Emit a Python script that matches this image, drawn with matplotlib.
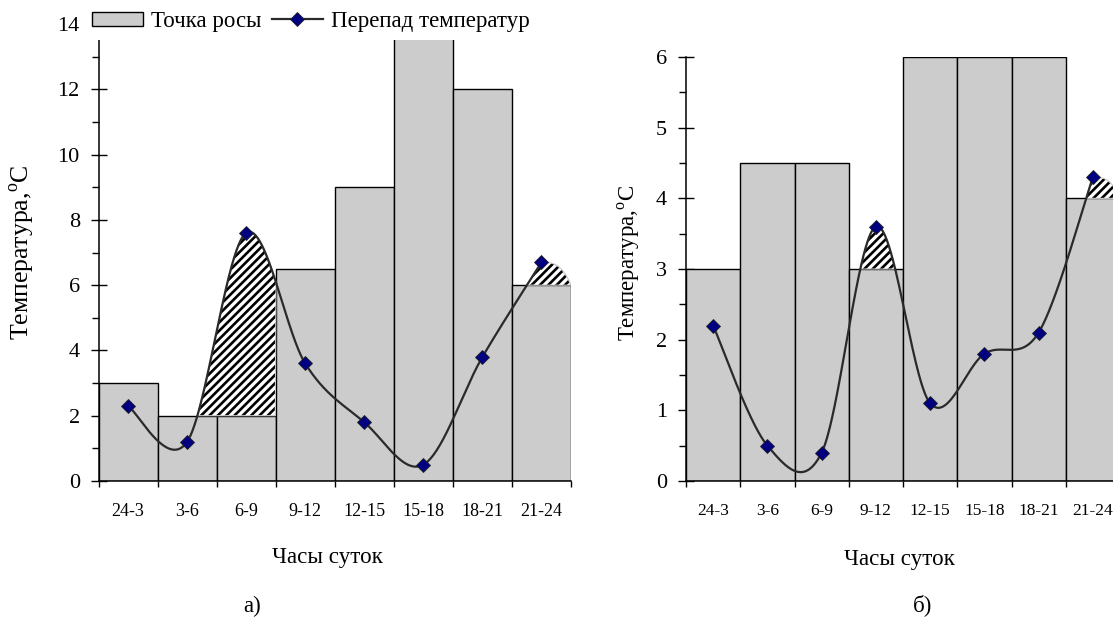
import numpy as np
import matplotlib
matplotlib.use("Agg")
import matplotlib.pyplot as plt
from matplotlib.lines import Line2D
from matplotlib.patches import Patch

plt.rcParams['font.family'] = ['Liberation Serif', 'DejaVu Serif']
plt.rcParams['mathtext.fontset'] = 'custom'
plt.rcParams['mathtext.rm'] = 'Liberation Serif'
plt.rcParams['hatch.linewidth'] = 1.9

hours = ['24-3', '3-6', '6-9', '9-12', '12-15', '15-18', '18-21', '21-24']

# а)
dew_a = [3, 2, 2, 6.5, 9, 14, 12, 6]
diff_a = [2.3, 1.2, 7.6, 3.6, 1.8, 0.5, 3.8, 6.7]

# б)
dew_b = [3, 4.5, 4.5, 3, 6, 6, 6, 4]
diff_b = [2.2, 0.5, 0.4, 3.6, 1.1, 1.8, 2.1, 4.3]

W, H = 1113, 617
BAR_COLOR = '#cccccc'
LINE_COLOR = '#2a2a2a'
MARK_COLOR = '#000080'


def smooth(x, y, n=80):
    # bezier smoothing, like excel's "smoothed line"
    p = np.column_stack([x, y]).astype(float)
    p = np.vstack([p[0], p, p[-1]])
    t = np.linspace(0, 1, n)[:, None]
    out = []
    for i in range(1, len(p) - 2):
        a, b = p[i], p[i + 1]
        c1 = a + (p[i + 1] - p[i - 1]) / 6
        c2 = b - (p[i + 2] - p[i]) / 6
        seg = (1 - t) ** 3 * a + 3 * (1 - t) ** 2 * t * c1 + 3 * (1 - t) * t ** 2 * c2 + t ** 3 * b
        out.append(seg if i == 1 else seg[1:])
    out = np.vstack(out)
    return out[:, 0], out[:, 1]


def px_to_fig(x, y):
    return x / W, 1 - y / H


def draw_panel(ax, dew, diff, ymax, major, minor, xtick_size):
    x = np.arange(len(hours))
    ax.bar(x, dew, width=1.0, color=BAR_COLOR, edgecolor='black', linewidth=1.0, zorder=2)

    xs, ys = smooth(x, diff)
    # the excess over the dew point is hatched; the last bar gets a small dome past the marker
    u = np.linspace(0, 1, 30)[1:]
    xe = np.concatenate([xs, xs[-1] + 0.5 * u])
    ye = np.concatenate([ys, ys[-1] - (ys[-1] - dew[-1]) * u ** 3])
    top = np.array(dew, float)[np.clip(np.floor(xe + 0.5).astype(int), 0, len(dew) - 1)]
    ax.fill_between(xe, top, ye, where=ye > top, interpolate=True, facecolor='white',
                    edgecolor='black', hatch='////', linewidth=0, zorder=3)
    ax.fill_between(xe, top, ye, where=ye > top, interpolate=True, facecolor='none',
                    edgecolor='#c8c8c8', linewidth=0.8, zorder=3)

    ax.plot(xs, ys, color=LINE_COLOR, lw=1.6, zorder=4)
    ax.plot(x, diff, linestyle='none', marker='D', ms=7.5, mfc=MARK_COLOR, mec='#222222',
            mew=0.6, zorder=5, clip_on=False)

    ax.set_xlim(-0.5, len(hours) - 0.5)
    ax.set_ylim(0, ymax)
    ax.set_xticks(x)
    ax.set_xticklabels(hours, fontsize=xtick_size)
    ax.set_xticks(np.arange(-0.5, len(hours)), minor=True)
    ax.tick_params(axis='x', which='major', length=0, pad=16)
    ax.tick_params(axis='x', which='minor', length=4, width=1.0, direction='out')
    ax.set_yticks(np.arange(0, ymax + 0.01, major))
    ax.set_yticks(np.arange(0, ymax + 0.01, minor), minor=True)
    ax.tick_params(axis='y', which='major', length=11, width=1.0, direction='inout',
                   labelsize=16, pad=8)
    ax.tick_params(axis='y', which='minor', length=5, width=1.0, direction='out')
    for s in ['top', 'right']:
        ax.spines[s].set_visible(False)
    for s in ['left', 'bottom']:
        ax.spines[s].set_linewidth(1.1)


fig = plt.figure(figsize=(W / 100, H / 100), dpi=100)

# left panel: axis from x=98.5..571 px, y 0 at 481 px, 14 at 24 px
ax1 = fig.add_axes([98.5 / W, (H - 481) / H, 472.5 / W, 457 / H])
draw_panel(ax1, dew_a, diff_a, 14, 2, 1, 13)

# right panel: axis from x=686..1120 px, 6 at 57 px
ax2 = fig.add_axes([686 / W, (H - 481) / H, 434 / W, 424 / H])
draw_panel(ax2, dew_b, diff_b, 6, 1, 0.5, 12.5)

handles = [Patch(facecolor=BAR_COLOR, edgecolor='black', linewidth=1.0),
           Line2D([], [], color=LINE_COLOR, lw=1.6, marker='D', ms=7.5, mfc=MARK_COLOR,
                  mec='#222222', mew=0.6)]
leg = ax1.legend(handles, ['Точка росы', 'Перепад температур'], ncol=2, fontsize=16.5,
                 loc='upper left', bbox_to_anchor=px_to_fig(84, 3), bbox_transform=fig.transFigure,
                 borderaxespad=0, borderpad=0.35, handlelength=2.23, handleheight=0.57,
                 handletextpad=0.35, columnspacing=0.44, frameon=True, fancybox=False,
                 framealpha=1, facecolor='white', edgecolor='none')
leg.set_zorder(10)

ylab = 'Температура,$^{\\mathregular{o}}$C'
fig.text(*px_to_fig(22, 252), ylab, rotation=90, ha='center', va='center', fontsize=18.5)
fig.text(*px_to_fig(629, 263), ylab, rotation=90, ha='center', va='center', fontsize=16.5)
fig.text(*px_to_fig(327, 558), 'Часы суток', ha='center', va='center', fontsize=16.6)
fig.text(*px_to_fig(899, 560), 'Часы суток', ha='center', va='center', fontsize=16.6)
fig.text(*px_to_fig(252, 606), 'а)', ha='center', va='center', fontsize=16.6)
fig.text(*px_to_fig(923, 605), 'б)', ha='center', va='center', fontsize=16.6)

fig.savefig('out.png', dpi=100)
